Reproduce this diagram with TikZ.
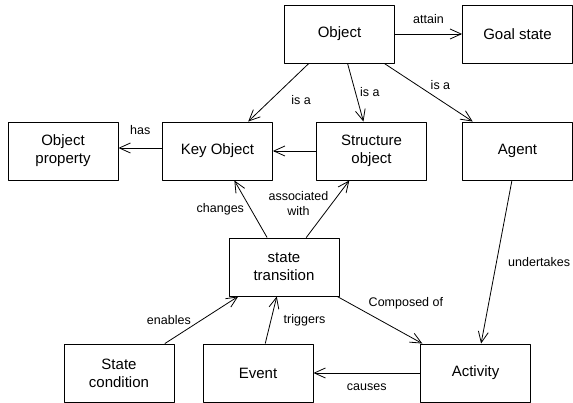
\documentclass[tikz,border=0pt]{standalone}
\usepackage{fontspec}
\setmainfont{Liberation Sans}
\usetikzlibrary{arrows.meta}
\begin{document}
\begin{tikzpicture}[x=1pt, y=-1pt, line join=round, >={Straight Barb[length=11pt,width=10pt]},
	box/.style={draw, line width=.9pt, minimum width=110pt, minimum height=58pt, align=center, font=\fontsize{15}{18}\selectfont},
	rel/.style={->, line width=.8pt},
	lbl/.style={font=\fontsize{12.5}{15}\selectfont}]
	\useasboundingbox (0,0) rectangle (573,403);
	% top row
	\node[box] (object) at (339.5,34) {Object};
	\node[box] (goal) at (517.5,34) {Goal state};
	% middle rows
	\node[box] (prop) at (63,151) {Object\\property};
	\node[box] (key) at (217.5,151) {Key Object};
	\node[box] (struct) at (371.5,151) {Structure\\object};
	\node[box] (agent) at (517.5,151) {Agent};
	\node[box] (trans) at (284,267) {state\\transition};
	% bottom row
	\node[box] (cond) at (119,373) {State\\condition};
	\node[box] (event) at (258,373) {Event};
	\node[box] (activity) at (475.5,373) {Activity};
	\draw[rel] (object) -- node[lbl, above=7pt] (lattain) {attain} (goal);
	\draw[rel] (object) -- node[lbl, pos=.63, right=17pt] (lisa1) {is a} (key);
	\draw[rel] (object) -- node[lbl, pos=.49, right=1pt] (lisa2) {is a} (struct);
	\draw[rel] (object) -- node[lbl, pos=.37, right=10pt] (lisa3) {is a} (agent);
	\draw[rel] ([yshift=3pt]key.west) -- node[lbl, above=10pt] (lhas) {has} ([yshift=3pt]prop.east);
	\draw[rel] (struct) -- (key);
	\draw[rel] (trans) -- node[lbl, pos=.5, left=3pt] (lchanges) {changes} (key);
	\draw[rel] (trans) -- node[lbl, pos=.6, left=0pt, align=center] (lassoc) {associated\\with} (struct);
	\draw[rel] (agent) -- node[lbl, pos=.5, right=8pt] (lundertakes) {undertakes} (activity);
	\draw[rel] (trans) -- node[lbl, pos=.35, anchor=south west, xshift=-2pt] (lcomposed) {Composed of} (activity);
	\draw[rel] (cond) -- node[lbl, pos=.5, left=7pt] (lenables) {enables} (trans);
	\draw[rel] (event) -- node[lbl, pos=.5, right=9pt] (ltriggers) {triggers} (trans);
	\draw[rel] (activity) -- node[lbl, below=7pt] (lcauses) {causes} (event);
\end{tikzpicture}
\end{document}
